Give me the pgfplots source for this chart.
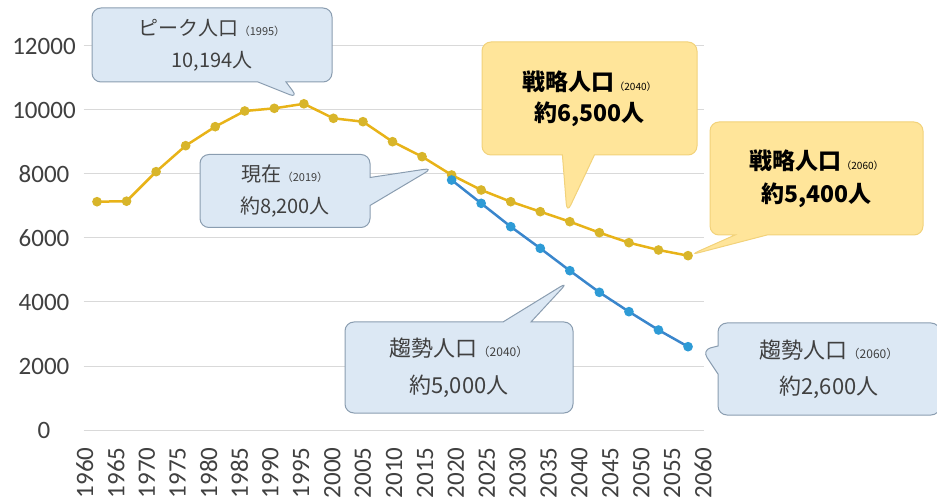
\documentclass[border=0pt]{standalone}
\usepackage{pgfplots}
\pgfplotsset{compat=1.18}
\usepackage{fontspec}
\setmainfont{Carlito}
\newfontfamily\jp{Noto Sans CJK JP}
\usetikzlibrary{shapes.callouts}
\definecolor{gold}{HTML}{E8B318}
\definecolor{goldm}{HTML}{D8B52A}
\definecolor{bl}{HTML}{3A86CC}
\definecolor{blm}{HTML}{2E9BD6}
\definecolor{cbfill}{HTML}{DCE8F4}
\definecolor{cbdraw}{HTML}{8A9DB0}
\definecolor{cyfill}{HTML}{FFE59A}
\definecolor{cydraw}{HTML}{F2D27A}
\definecolor{txt}{HTML}{404040}
\begin{document}
\begin{tikzpicture}
\path[use as bounding box] (0pt,0pt) rectangle (937pt,-502pt);
\begin{axis}[
  at={(83.7pt,-430pt)}, anchor=south west,
  scale only axis, width=620.6pt, height=384pt,
  xmin=-0.45, xmax=20.55, ymin=0, ymax=12000,
  axis line style={draw=none},
  major tick length=0pt,
  ymajorgrids, grid style={draw=black!15, line width=1pt},
  ytick={0,2000,4000,6000,8000,10000,12000},
  yticklabels={0,2000,4000,6000,8000,10000,12000},
  scaled y ticks=false,
  yticklabel style={anchor=center, xshift=-39.7pt, font=\fontsize{25}{25}\selectfont, text=txt},
  xtick={-0.41,0.64,1.69,2.73,3.78,4.82,5.87,6.91,7.96,9.00,10.05,11.10,12.14,13.19,14.23,15.28,16.32,17.37,18.42,19.46,20.51},
  xticklabels={1960,1965,1970,1975,1980,1985,1990,1995,2000,2005,2010,2015,2020,2025,2030,2035,2040,2045,2050,2055,2060},
  xticklabel style={rotate=90, anchor=east, font=\fontsize{25}{25}\selectfont, text=txt},
  xticklabel shift=14pt,
  clip=false,
]
\addplot[gold, line width=2.5pt, mark=*, mark size=3.5pt, mark options={fill=goldm, draw=goldm}] coordinates {
(0,7134) (1,7150) (2,8073) (3,8885) (4,9479) (5,9969) (6,10052) (7,10194) (8,9740) (9,9635) (10,9010)
(11,8542) (12,7969) (13,7500) (14,7135) (15,6823) (16,6510) (17,6167) (18,5854) (19,5625) (20,5448)};
\addplot[bl, line width=2.5pt, mark=*, mark size=3.5pt, mark options={fill=blm, draw=blm}] coordinates {
(12,7812) (13,7083) (14,6354) (15,5677) (16,4979) (17,4302) (18,3698) (19,3125) (20,2604)};
\end{axis}
\tikzset{cb/.style={rectangle callout, rounded corners=9pt, fill=cbfill, draw=cbdraw, line width=1pt, text=txt, align=center, callout pointer width=28pt, inner sep=0pt},
         cy/.style={rectangle callout, rounded corners=9pt, fill=cyfill, draw=cydraw, line width=1pt, text=black, align=center, callout pointer width=32pt, inner sep=0pt}}
\node[cb, minimum width=240pt, minimum height=74pt, callout absolute pointer={(298pt,-98pt)}, font=\jp\fontsize{20}{32}\selectfont] at (212pt,-45pt)
  {ピーク人口{\fontsize{11}{11}\selectfont（1995）}\\10,194人};
\node[cb, minimum width=170pt, minimum height=73pt, callout absolute pointer={(433pt,-168pt)}, font=\jp\fontsize{20}{32}\selectfont] at (285pt,-191pt)
  {現在{\fontsize{11}{11}\selectfont（2019）}\\約8,200人};
\node[cy, minimum width=215pt, minimum height=113pt, callout absolute pointer={(567pt,-213pt)}, font=\jp\bfseries\fontsize{23}{31}\selectfont] at (589.5pt,-98.5pt)
  {戦略人口{\mdseries\fontsize{10}{10}\selectfont（2040）}\\約6,500人};
\node[cy, minimum width=213pt, minimum height=113pt, callout absolute pointer={(690pt,-255pt)}, font=\jp\bfseries\fontsize{23}{33}\selectfont] at (816.5pt,-178.5pt)
  {戦略人口{\mdseries\fontsize{10}{10}\selectfont（2060）}\\約5,400人};
\node[cb, minimum width=228pt, minimum height=91pt, callout absolute pointer={(568pt,-282pt)}, font=\jp\fontsize{22}{37}\selectfont] at (459pt,-367.5pt)
  {趨勢人口{\fontsize{12}{12}\selectfont（2040）}\\約5,000人};
\node[cb, minimum width=222pt, minimum height=92pt, callout absolute pointer={(702pt,-350pt)}, font=\jp\fontsize{22}{36}\selectfont] at (829pt,-369pt)
  {趨勢人口{\fontsize{12}{12}\selectfont（2060）}\\約2,600人};
\end{tikzpicture}
\end{document}
